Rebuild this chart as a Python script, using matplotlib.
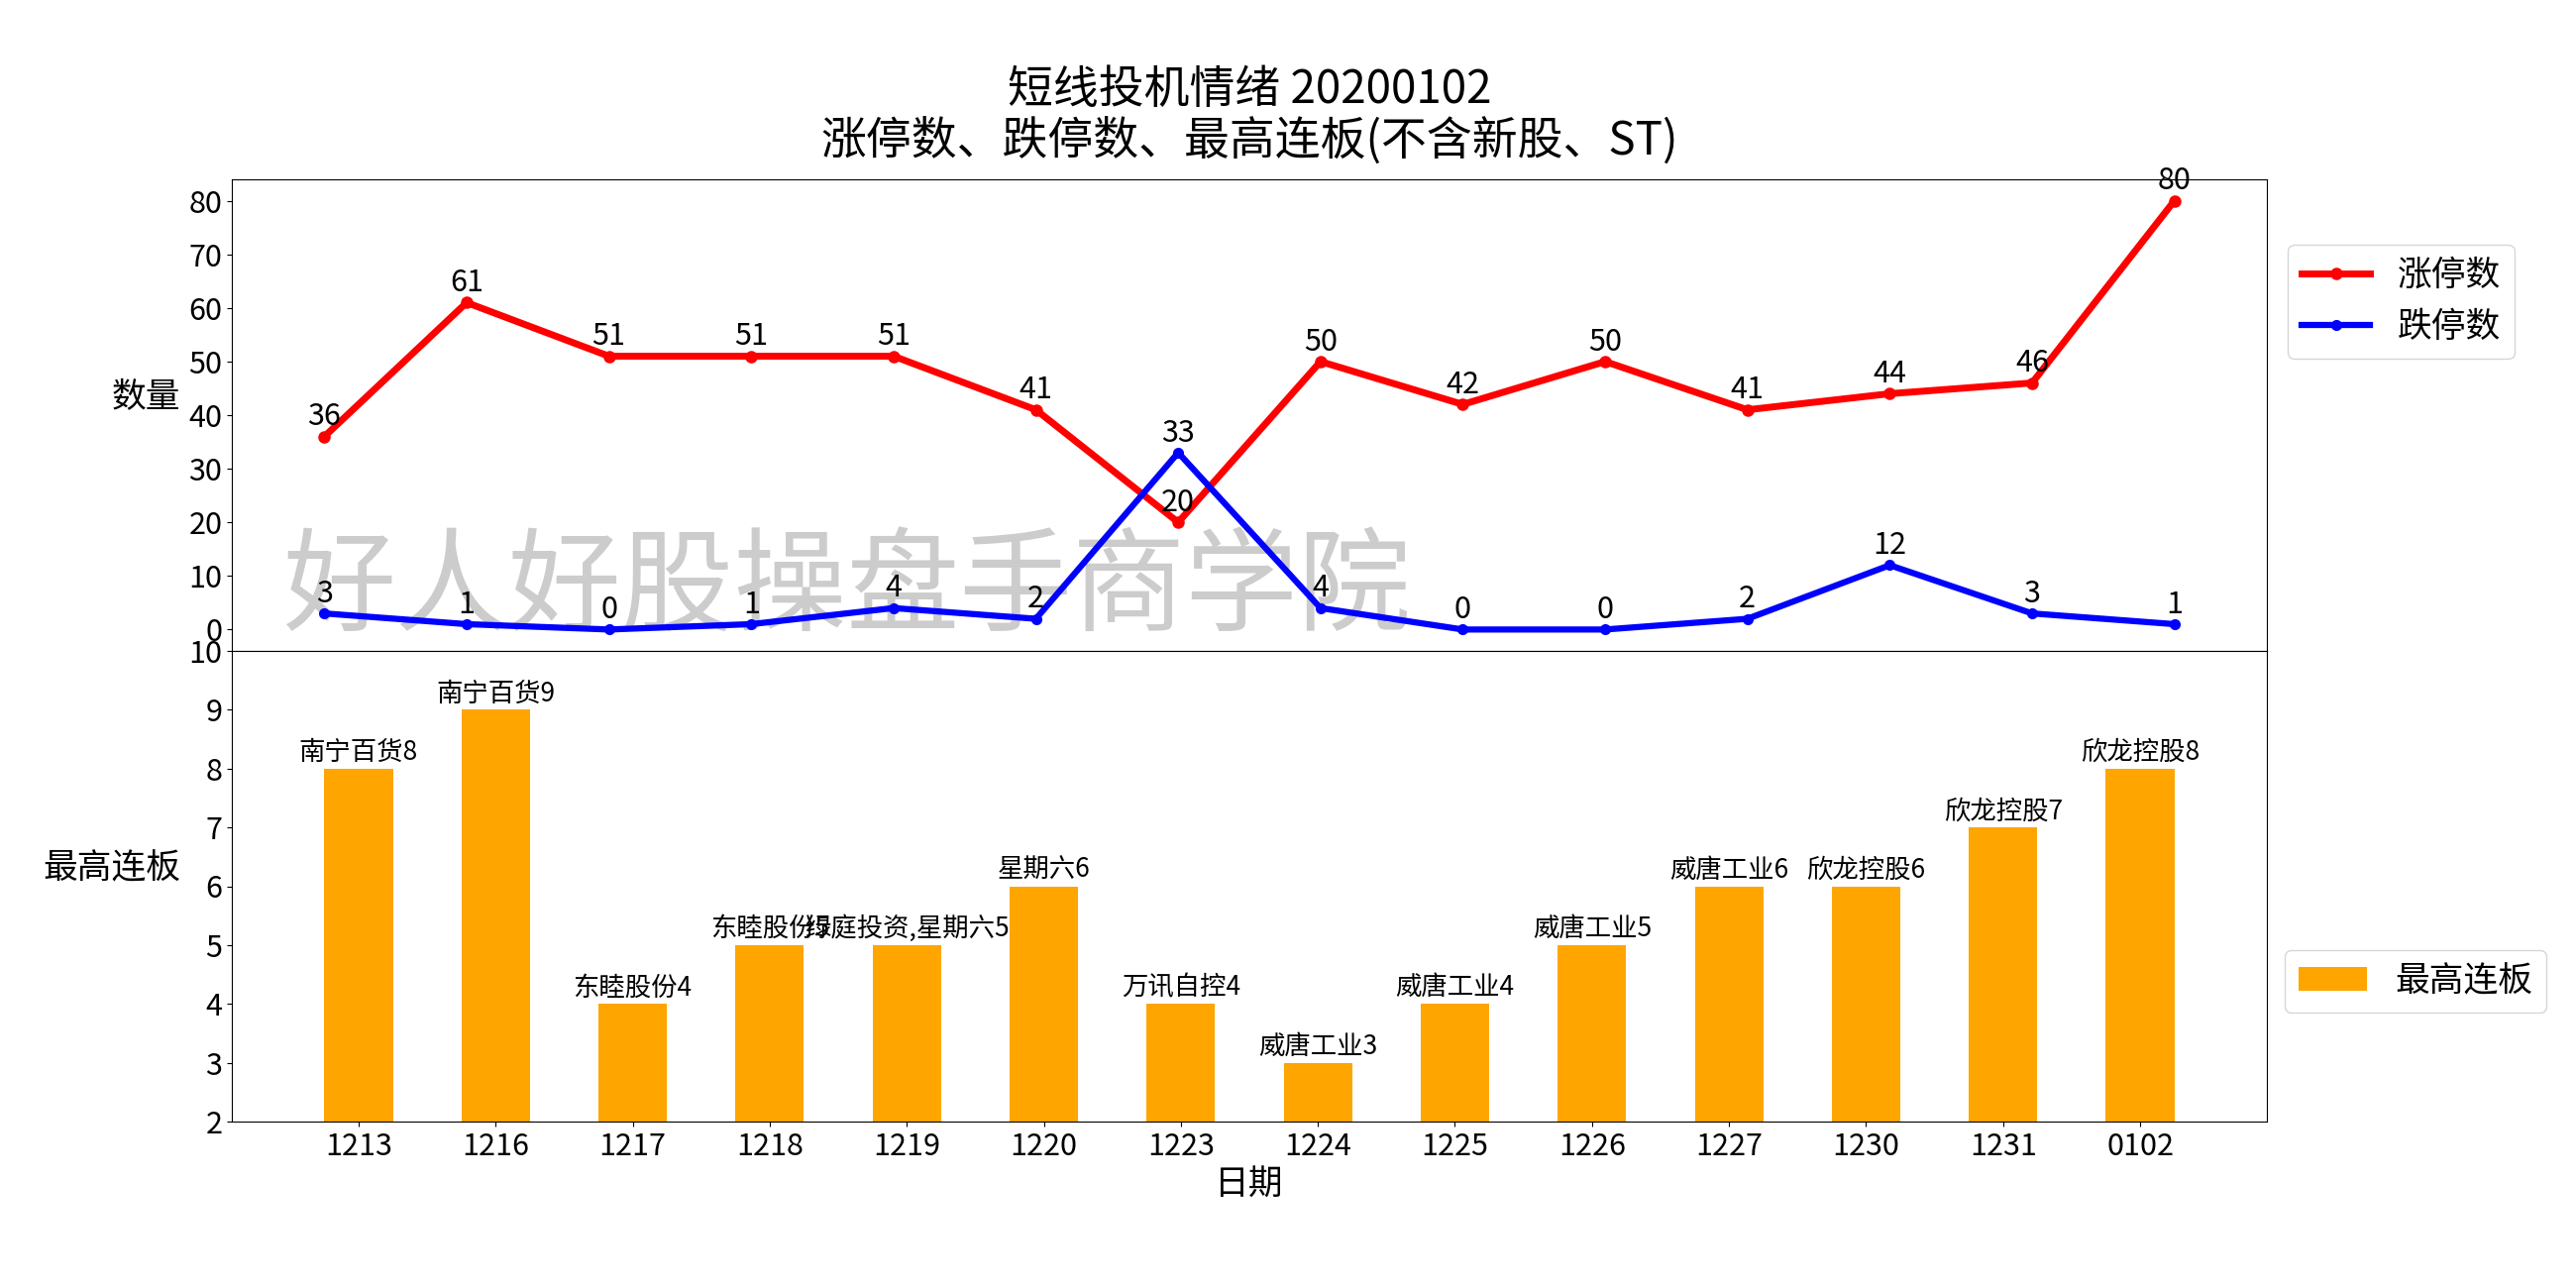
import matplotlib
matplotlib.use("Agg")
import matplotlib.pyplot as plt

plt.rcParams['font.family'] = ['Noto Sans CJK SC', 'DejaVu Sans']
plt.rcParams['axes.unicode_minus'] = False

dates = ['1213', '1216', '1217', '1218', '1219', '1220', '1223', '1224',
         '1225', '1226', '1227', '1230', '1231', '0102']
limit_up = [36, 61, 51, 51, 51, 41, 20, 50, 42, 50, 41, 44, 46, 80]
limit_down = [3, 1, 0, 1, 4, 2, 33, 4, 0, 0, 2, 12, 3, 1]
max_board = [8, 9, 4, 5, 5, 6, 4, 3, 4, 5, 6, 6, 7, 8]
board_names = ['南宁百货', '南宁百货', '东睦股份', '东睦股份', '绿庭投资,星期六', '星期六',
               '万讯自控', '威唐工业', '威唐工业', '威唐工业', '威唐工业', '欣龙控股',
               '欣龙控股', '欣龙控股']

fig = plt.figure(figsize=(26, 13), dpi=100)
ax1 = fig.add_axes([234/2600, 1-657/1300, (2288-234)/2600, (657-181)/1300])
ax2 = fig.add_axes([234/2600, 1-1132/1300, (2288-234)/2600, (1132-657)/1300])

x = list(range(len(dates)))

# Top: line chart
ax1.plot(x, limit_up, color='red', lw=5, marker='o', markersize=8, label='涨停数', zorder=3)
ax1.plot(x, limit_down, color='blue', lw=4.5, marker='o', markersize=7, label='跌停数', zorder=3)
for i, v in enumerate(limit_up):
    ax1.text(i, v + 0.8, str(v), ha='center', va='bottom', fontsize=22, zorder=4)
for i, v in enumerate(limit_down):
    ax1.text(i, v + 0.8, str(v), ha='center', va='bottom', fontsize=22, zorder=4)
ax1.set_xticks([])
ax1.set_yticks([0, 10, 20, 30, 40, 50, 60, 70, 80])
ax1.tick_params(axis='y', labelsize=22)
ax1.set_ylabel('数量', fontsize=25, rotation=0, ha='right', va='bottom')
ax1.yaxis.set_label_coords(-0.0253, 0.5)
ax1.set_title('短线投机情绪 20200102\n涨停数、跌停数、最高连板(不含新股、ST)',
              fontsize=33, pad=18, linespacing=1.1)
ax1.legend(loc='upper left', bbox_to_anchor=(2309/2600, 1-247/1300),
           bbox_transform=fig.transFigure, borderaxespad=0, fontsize=25)
ax1.text(0.025, 0.128, '好人好股操盘手商学院', transform=ax1.transAxes,
         fontsize=82, color='#cccccc', ha='left', va='center', zorder=1)

# Bottom: bar chart
ax2.bar(x, max_board, width=0.5, color='orange', label='最高连板', zorder=2)
for i, (v, n) in enumerate(zip(max_board, board_names)):
    ax2.text(i, v + 0.05, f'{n}{v}', ha='center', va='bottom', fontsize=19, zorder=4)
ax2.set_ylim(2, 10)
ax2.set_yticks(range(2, 11))
ax2.set_xticks(x)
ax2.set_xticklabels(dates)
ax2.tick_params(axis='both', labelsize=22)
ax2.set_xlabel('日期', fontsize=25)
ax2.set_ylabel('最高连板', fontsize=25, rotation=0, ha='right', va='bottom')
ax2.yaxis.set_label_coords(-0.0253, 0.5)
ax2.legend(loc='upper left', bbox_to_anchor=(2306/2600, 1-959/1300),
           bbox_transform=fig.transFigure, borderaxespad=0, fontsize=25)

fig.savefig('out.png', dpi=100)
